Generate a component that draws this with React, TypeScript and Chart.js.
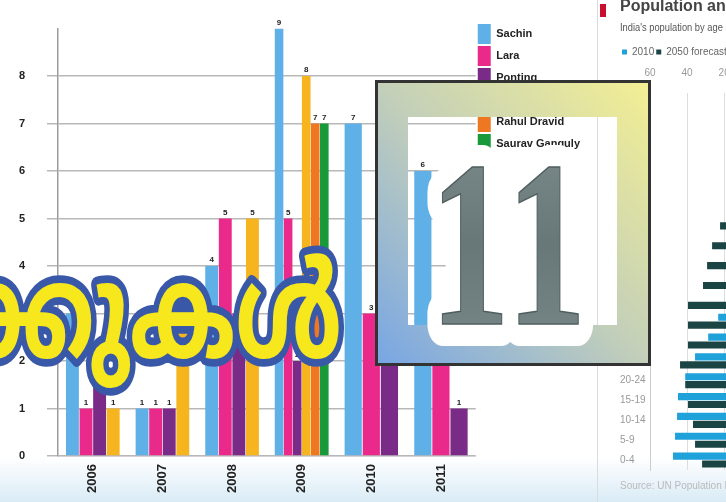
import React, { useEffect, useRef } from "react";
import { Chart, registerables } from "chart.js";

Chart.register(...registerables);

// ---- main bar chart data ----
const years = ["2006", "2007", "2008", "2009", "2010", "2011"];
const playerNames = ["Sachin", "Lara", "Ponting", "Kallis", "Rahul Dravid", "Saurav Ganguly"];
const sachinValues = [3, 1, 4, 9, 7, 6];
const laraValues = [1, 1, 5, 5, 3, 2];
const pontingValues = [2, 1, 3, 2, 2, 1];
const kallisValues = [1, 3, 5, 8, null, null];
const dravidValues = [null, null, null, 7, null, null];
const gangulyValues = [null, null, null, 7, null, null];
const playerColors = ["#60b0e8", "#e92a8b", "#7a2b88", "#f6b41e", "#ee7822", "#189a3b"];
const countTicks = [0, 1, 2, 3, 4, 5, 6, 7, 8];

// ---- population pyramid data (millions) ----
const ageGroups = ["0-4", "5-9", "10-14", "15-19", "20-24", "25-29", "30-34", "35-39", "40-44", "45-49", "50-54", "55-59", "60-64", "65-69", "70-74", "75-79", "80-84", "85-89", "90+"];
const pop2010 = [47.6, 46.5, 45.4, 44.9, 41, 35.7, 28.6, 23.2, 19, 16, 13, 10, 8, 6, 4, 2.5, 1.2, 0.5, 0.2];
const pop2050 = [31.9, 35.7, 36.8, 39.5, 41, 43.8, 39.5, 39.5, 39.5, 31.4, 29.2, 26.5, 22.2, 17, 12, 8, 5, 2, 1];
const popSeriesNames = ["2010", "2050 forecast"];
const popColors = ["#1fa1da", "#1b4545"];
const popTicks = [60, 40, 20, 0];
const panelTitle = "Population and age";
const panelSubtitle = "India's population by age and sex, m";
const panelSource = "Source: UN Population Division";

// ---- overlay texts ----
const headline = "കണക്കുകൾ";
const badgeNumber = "11";

const FONT = "'Liberation Sans', Arial, sans-serif";

const valueLabels = {
  id: "valueLabels",
  afterDatasetsDraw(chart: any) {
    const ctx = chart.ctx;
    ctx.save();
    ctx.font = "bold 8px 'Liberation Sans'";
    ctx.fillStyle = "#222";
    ctx.textAlign = "center";
    ctx.textBaseline = "bottom";
    chart.data.datasets.forEach((ds: any, i: number) => {
      const meta = chart.getDatasetMeta(i);
      meta.data.forEach((el: any, j: number) => {
        const v = ds.data[j];
        if (v == null || !isFinite(el.x) || !isFinite(el.y)) return;
        ctx.fillText(String(v), el.x, el.y - 2);
      });
    });
    ctx.restore();
  },
};

export default function App() {
  const mainRef = useRef<HTMLCanvasElement | null>(null);
  const popRef = useRef<HTMLCanvasElement | null>(null);

  useEffect(() => {
    Chart.defaults.font.family = FONT;
    const series = [sachinValues, laraValues, pontingValues, kallisValues, dravidValues, gangulyValues];
    const main = new Chart(mainRef.current as HTMLCanvasElement, {
      type: "bar",
      data: {
        labels: years,
        datasets: series.map((d, i) => ({
          label: playerNames[i],
          data: d as any,
          backgroundColor: playerColors[i],
          borderWidth: 0,
          skipNull: true,
          categoryPercentage: 0.78,
          barPercentage: 0.95,
        })) as any,
      },
      options: {
        animation: false,
        responsive: false,
        maintainAspectRatio: false,
        layout: { padding: { top: 22, left: 0, right: 4, bottom: 0 } },
        plugins: {
          legend: {
            position: "right",
            align: "start",
            labels: {
              boxWidth: 13,
              boxHeight: 20,
              padding: 2,
              color: "#222",
              font: { family: FONT, size: 11, weight: "bold" },
            },
          },
          tooltip: { enabled: false },
        },
        scales: {
          x: {
            grid: { display: false },
            border: { display: true, color: "#d8d0d8", width: 1 },
            ticks: {
              minRotation: 90,
              maxRotation: 90,
              padding: 0,
              color: "#222",
              font: { family: FONT, size: 13, weight: "bold" },
            },
            afterFit: (s: any) => {
              s.height = 46;
            },
          },
          y: {
            min: 0,
            max: 9,
            afterBuildTicks: (s: any) => {
              s.ticks = countTicks.map((v) => ({ value: v }));
            },
            ticks: {
              padding: 22,
              color: "#222",
              font: { family: FONT, size: 11, weight: "bold" },
            },
            grid: { color: "#b8b8b8", lineWidth: 1.5, tickLength: 11 },
            border: { display: true, color: "#9c9c9c", width: 1.5 },
            afterFit: (s: any) => {
              s.width = 58;
            },
          },
        },
      } as any,
      plugins: [valueLabels],
    });

    const pop = new Chart(popRef.current as HTMLCanvasElement, {
      type: "bar",
      data: {
        labels: ageGroups,
        datasets: [
          { label: popSeriesNames[0], data: pop2010, backgroundColor: popColors[0], borderWidth: 0, categoryPercentage: 0.8, barPercentage: 0.9 },
          { label: popSeriesNames[1], data: pop2050, backgroundColor: popColors[1], borderWidth: 0, categoryPercentage: 0.8, barPercentage: 0.9 },
        ] as any,
      },
      options: {
        indexAxis: "y",
        animation: false,
        responsive: false,
        maintainAspectRatio: false,
        layout: { padding: { top: 18, left: 22, right: 7, bottom: 32 } },
        plugins: {
          subtitle: {
            display: true,
            text: panelSubtitle,
            align: "start",
            color: "#555",
            font: { family: FONT, size: 10 },
            padding: { top: 4, bottom: 11 },
          },
          legend: {
            position: "top",
            align: "start",
            labels: {
              boxWidth: 5,
              boxHeight: 5,
              padding: 2,
              color: "#666",
              font: { family: FONT, size: 10 },
            },
          },
          tooltip: { enabled: false },
        },
        scales: {
          x: {
            position: "top",
            reverse: true,
            min: 0,
            max: 60,
            afterBuildTicks: (s: any) => {
              s.ticks = popTicks.map((v) => ({ value: v }));
            },
            ticks: { color: "#999", padding: 14, font: { family: FONT, size: 10 } },
            grid: { color: "#dddddd", drawTicks: false },
            border: { display: false },
            afterFit: (s: any) => {
              s.height = 26;
            },
          },
          y: {
            reverse: true,
            grid: { display: false },
            border: { display: true, color: "#cccccc" },
            ticks: { crossAlign: "far", autoSkip: false, color: "#999", font: { family: FONT, size: 10 } },
            afterFit: (s: any) => {
              s.width = 30;
            },
          },
        },
      } as any,
    });

    return () => {
      main.destroy();
      pop.destroy();
    };
  }, []);

  return (
    <div
      style={{
        position: "fixed",
        left: 0,
        top: 0,
        width: 726,
        height: 502,
        overflow: "hidden",
        background: "linear-gradient(to bottom, #ffffff 0%, #ffffff 91%, #d9ebf6 100%)",
        fontFamily: FONT,
      }}
    >
      <div style={{ position: "absolute", left: 0, top: 0, width: 594, height: 502 }}>
        <canvas ref={mainRef} width={594} height={502} />
      </div>
      <div style={{ position: "absolute", left: 597, top: 0, width: 1, height: 502, background: "#dcdcdc" }} />
      <div style={{ position: "absolute", left: 598, top: 0, width: 180, height: 502 }}>
        <canvas ref={popRef} width={180} height={502} />
      </div>
      <div style={{ position: "absolute", left: 600, top: 4, width: 6, height: 13, background: "#c8102e" }} />
      <div
        style={{
          position: "absolute",
          left: 620,
          top: -3,
          whiteSpace: "nowrap",
          fontSize: 16,
          fontWeight: "bold",
          color: "#444",
        }}
      >
        {panelTitle}
      </div>
      <div style={{ position: "absolute", left: 620, top: 480, whiteSpace: "nowrap", fontSize: 10, color: "#bbb" }}>
        {panelSource}
      </div>
      <svg
        width={726}
        height={502}
        style={{ position: "absolute", left: 0, top: 0, pointerEvents: "none" }}
      >
        <defs>
          <linearGradient id="frameGrad" x1="0" y1="1" x2="1" y2="0">
            <stop offset="0" stopColor="#78a6e4" />
            <stop offset="0.5" stopColor="#c3cfb9" />
            <stop offset="1" stopColor="#f3ef94" />
          </linearGradient>
          <linearGradient id="metalGrad" x1="0" y1="0" x2="0" y2="1">
            <stop offset="0" stopColor="#7f8e8e" />
            <stop offset="0.5" stopColor="#687878" />
            <stop offset="1" stopColor="#7a8a8a" />
          </linearGradient>
        </defs>
        <g transform="translate(342 357) scale(0.92 1.3)">
          <text
            x={0}
            y={0}
            textAnchor="end"
            fontSize={100}
            fontWeight="bold"
            fontFamily="'Noto Sans Malayalam', 'Noto Serif Malayalam', Manjari, Meera, Rachana, 'Lohit Malayalam', AnjaliOldLipi, 'Noto Sans', sans-serif"
            fill="#f6e81c"
            stroke="#3a58a8"
            strokeWidth={12}
            strokeLinejoin="round"
            paintOrder="stroke"
          >
            {headline}
          </text>
        </g>
        <path
          d="M378 83 H648 V363 H378 Z M408 117 V325 H617 V117 Z"
          fill="url(#frameGrad)"
          fillRule="evenodd"
        />
        <rect x={376.5} y={81.5} width={273} height={283} fill="none" stroke="#333" strokeWidth={3} />
        <g transform="translate(429.5 323.5) scale(0.68 1)">
          <text
            x={0}
            y={0}
            fontSize={237}
            fontWeight="bold"
            fontFamily="'Liberation Serif', 'Times New Roman', serif"
            letterSpacing={7}
            fill="#ffffff"
            stroke="#ffffff"
            strokeWidth={44}
            strokeLinejoin="round"
          >
            {badgeNumber}
          </text>
          <text
            x={0}
            y={0}
            fontSize={237}
            fontWeight="bold"
            fontFamily="'Liberation Serif', 'Times New Roman', serif"
            letterSpacing={7}
            fill="url(#metalGrad)"
            stroke="#4f5e5e"
            strokeWidth={1.5}
          >
            {badgeNumber}
          </text>
        </g>
      </svg>
    </div>
  );
}
